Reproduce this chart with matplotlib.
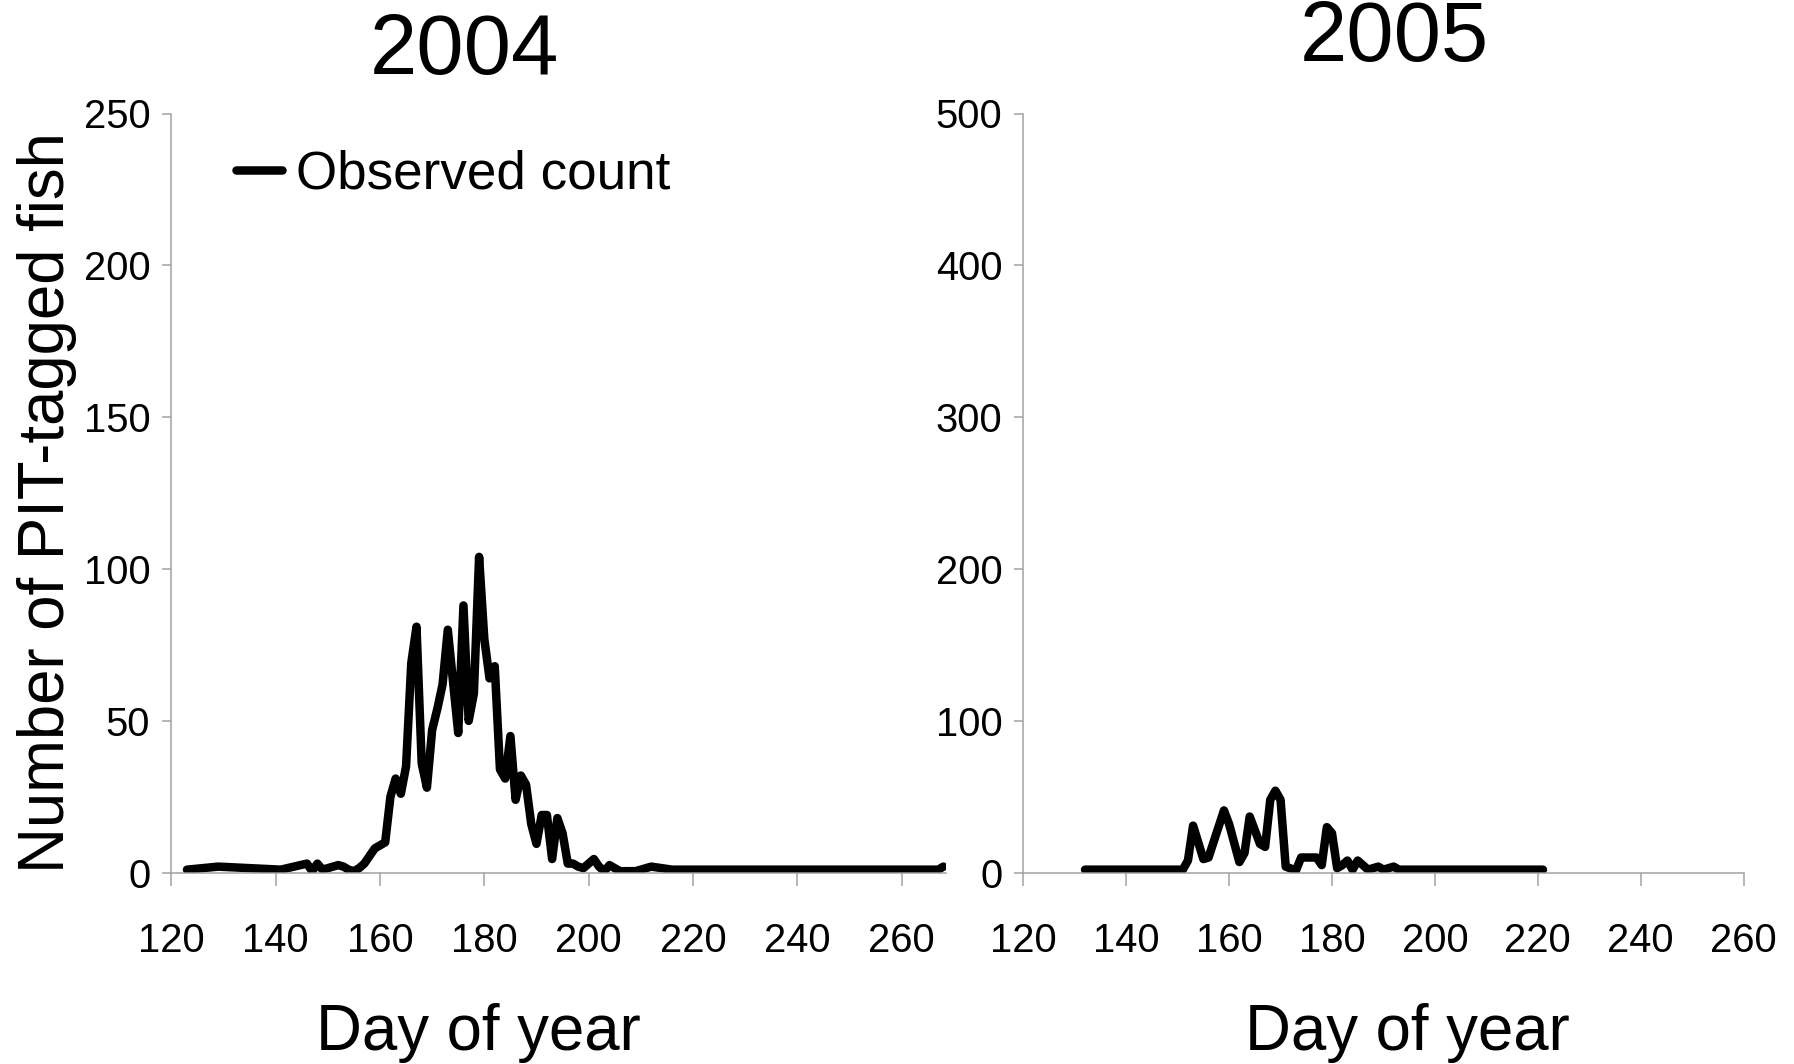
import matplotlib
matplotlib.use("Agg")
import matplotlib.pyplot as plt

plt.rcParams['font.family'] = ['Liberation Sans', 'DejaVu Sans']

# 2004 observed counts (day of year, count)
days_2004 = [123, 129, 141, 146, 147, 148, 149, 152, 153, 154, 155, 156, 157, 158,
             159, 160, 161, 162, 163, 164, 165, 166, 167, 168, 169, 170, 171, 172,
             173, 174, 175, 176, 177, 178, 179, 180, 181, 182, 183, 184, 185, 186,
             187, 188, 189, 190, 191, 192, 193, 194, 195, 196, 197, 198, 199, 201,
             202, 203, 204, 206, 209, 212, 216, 267, 268]
count_2004 = [1, 2, 1, 3, 0.5, 3, 1, 2.5, 2, 1, 0.5, 1.5, 3, 5.5,
              8, 9, 10, 25, 31, 26, 35, 69, 81, 36, 28, 47, 54, 62,
              80, 63, 46, 88, 50, 59, 104, 77, 64, 68, 34, 31, 45, 24,
              32, 29, 16, 9.5, 19, 19, 4.5, 18, 13, 3, 3, 2, 1.5, 4.5,
              2, 0.5, 2.5, 0.5, 0.5, 2, 1, 1, 2]

# 2005 observed counts
days_2005 = [132, 151, 152, 153, 155, 156, 159, 160, 162, 163, 164, 166, 167,
             168, 169, 170, 171, 173, 174, 177, 178, 179, 180, 181, 182, 183,
             184, 185, 186, 187, 189, 190, 192, 193, 221]
count_2005 = [2, 2, 8, 31, 9, 10, 41, 32, 7, 13, 37, 19, 17,
              48, 54, 48, 4, 1.5, 10, 10, 5, 30, 26, 3, 5, 8,
              2, 8, 5, 2, 4, 2, 4, 2, 2]

x_ticks = [120, 140, 160, 180, 200, 220, 240, 260]
y_ticks_2004 = [0, 50, 100, 150, 200, 250]
y_ticks_2005 = [0, 100, 200, 300, 400, 500]

W, H = 1794, 1064
fig = plt.figure(figsize=(W / 72, H / 72), dpi=72)

ax1 = fig.add_axes([171.3 / W, 1 - 872.7 / H, (946 - 171.3) / W, (872.7 - 113.5) / H])
ax2 = fig.add_axes([1023.3 / W, 1 - 872.7 / H, 720.3 / W, (872.7 - 113.5) / H])

grey = '#a0a0a0'
line_kw = dict(color='black', lw=8.5, solid_joinstyle='round', solid_capstyle='round')

ax1.plot(days_2004, count_2004, label='Observed count', **line_kw)
ax2.plot(days_2005, count_2005, **line_kw)

for ax, yt, xmax in [(ax1, y_ticks_2004, 268.5), (ax2, y_ticks_2005, 260)]:
    ax.set_xlim(120, xmax)
    ax.set_ylim(yt[0], yt[-1])
    ax.set_xticks(x_ticks)
    ax.set_yticks(yt)
    ax.spines['top'].set_visible(False)
    ax.spines['right'].set_visible(False)
    for s in ['left', 'bottom']:
        ax.spines[s].set_color(grey)
        ax.spines[s].set_linewidth(1.5)
    ax.tick_params(axis='x', direction='out', length=13, width=1.5, color=grey,
                   labelsize=40, pad=36)
    ax.tick_params(axis='y', direction='out', length=9, width=1.5, color=grey,
                   labelsize=40, pad=12)
    for lab in ax.get_xticklabels() + ax.get_yticklabels():
        lab.set_clip_on(False)

ax1.legend(loc='center left', bbox_to_anchor=(236 / W, 1 - 174.5 / H),
           bbox_transform=fig.transFigure, frameon=False, fontsize=53,
           handlelength=0.86, handletextpad=0.28, borderpad=0, borderaxespad=0)

fig.text(464 / W, 1 - 74 / H, '2004', ha='center', va='baseline', fontsize=85)
fig.text(1394 / W, 1 - 61 / H, '2005', ha='center', va='baseline', fontsize=85)
fig.text(478 / W, 1 - 1050 / H, 'Day of year', ha='center', va='baseline', fontsize=63.5)
fig.text(1407 / W, 1 - 1050 / H, 'Day of year', ha='center', va='baseline', fontsize=63.5)
fig.text(47 / W, 1 - 503 / H, 'Number of PIT-tagged fish', rotation=90,
         ha='center', va='center', fontsize=63.5)

fig.savefig('out.png', dpi=72)
